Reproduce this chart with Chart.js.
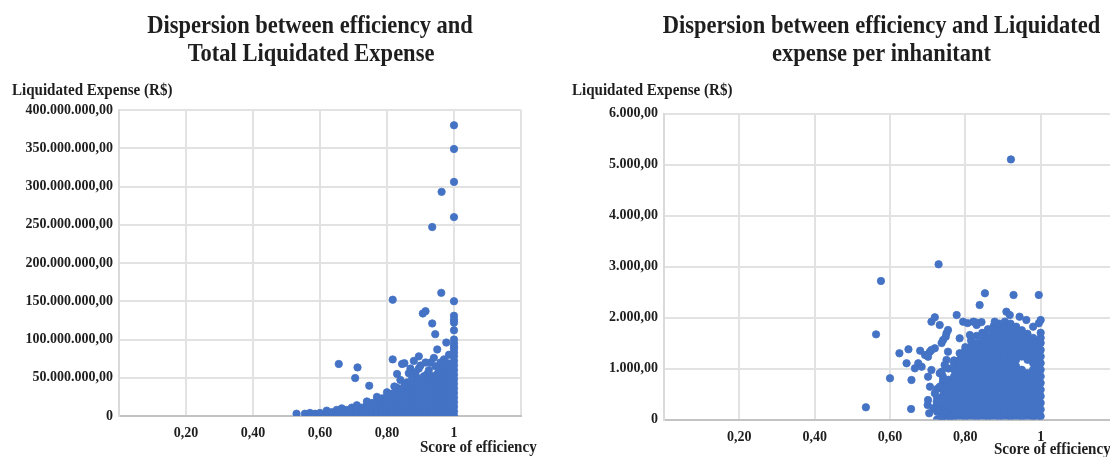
<!DOCTYPE html>
<html>
<head>
<meta charset="utf-8">
<script src="https://cdn.jsdelivr.net/npm/chart.js@4.4.0/dist/chart.umd.min.js"></script>
<style>
  html, body { margin: 0; padding: 0; background: #ffffff; overflow: hidden; }
  #wrap { position: relative; width: 1110px; height: 457px; overflow: hidden; background: #fff; }
  #c1 { position: absolute; left: 0; top: 0; }
  #c2 { position: absolute; left: 555px; top: 0; }
</style>
</head>
<body>
<div id="wrap">
  <canvas id="c1" width="555" height="457" style="width:555px;height:457px"></canvas>
  <canvas id="c2" width="570" height="457" style="width:570px;height:457px"></canvas>
</div>
<script>
// ---------------- DATA ----------------
const xTickLabels = ['', '0,20', '0,40', '0,60', '0,80', '1', ''];
const totalYTickLabels = ['0', '50.000.000,00', '100.000.000,00', '150.000.000,00', '200.000.000,00',
  '250.000.000,00', '300.000.000,00', '350.000.000,00', '400.000.000,00'];
const perCapYTickLabels = ['0', '1.000,00', '2.000,00', '3.000,00', '4.000,00', '5.000,00', '6.000,00'];

// Chart 1: Total liquidated expense (millions of R$) - isolated points
const totalOutlierScore = [1.0, 1.0, 1.0, 0.963, 1.0, 0.935, 0.962, 0.817, 1.0, 0.915, 0.907, 1.0, 1.0, 1.0, 0.935,
  1.0, 0.944, 1.0, 0.977, 0.95, 1.0, 1.0, 0.895, 0.94, 0.817, 0.852, 0.845, 0.981, 0.656, 0.712, 0.705, 0.747,
  0.822, 0.852, 0.87, 0.885, 0.9, 0.91, 0.925, 0.955, 0.965, 0.97, 0.99, 0.93, 0.88,
  0.83, 0.84, 0.865, 0.875, 0.895, 0.915, 0.945, 0.96, 0.985];
const totalOutlierExpense = [380, 349, 306, 293, 260, 247, 161, 152, 150, 137, 134, 131, 126, 122, 121,
  112, 107, 100, 96, 87, 88, 83, 78, 76, 74, 69, 68, 69, 68, 63.5, 49.6, 39.6,
  38.6, 39.6, 62, 57, 66, 52, 60, 58, 64, 74, 66, 70, 72,
  55, 47, 56, 50, 62, 70, 65, 70, 80];
// Chart 1: dense cloud, read column by column (score -> expenses in millions)
const totalCloudScore = [0.53, 0.555, 0.57, 0.585, 0.60, 0.62, 0.635, 0.65, 0.665, 0.68, 0.695, 0.71, 0.725,
  0.74, 0.755, 0.77, 0.785, 0.80, 0.815, 0.83, 0.845, 0.86, 0.875, 0.89, 0.905, 0.92, 0.935, 0.95, 0.965,
  0.98, 0.99, 1.0];
const totalCloudExpense = [
  [3], [3], [4], [3], [4], [3, 7], [5], [3, 8], [5, 10], [2, 8], [4, 11], [2, 8, 14], [5, 11],
  [1, 7, 14, 19], [4, 10, 17], [1, 7, 13, 20, 25], [3, 10, 16, 23], [0, 6, 13, 19, 26, 31],
  [3, 9, 16, 22, 29], [0, 6, 12, 19, 25, 32, 37], [3, 9, 15, 22, 28, 35],
  [0, 6, 12, 18, 25, 31, 38, 44], [3, 9, 15, 21, 28, 34, 41],
  [0, 6, 12, 18, 24, 31, 37, 44, 50], [3, 9, 15, 21, 27, 34, 40, 47],
  [0, 6, 12, 18, 24, 30, 37, 43, 50, 55], [3, 9, 15, 21, 27, 33, 40, 46, 52],
  [0, 6, 12, 18, 24, 30, 36, 43, 49, 55], [3, 9, 15, 21, 27, 33, 39, 46, 52, 58],
  [0, 6, 12, 18, 24, 30, 36, 42, 49, 56, 61], [3, 9, 15, 21, 27, 33, 39, 45, 52, 59],
  [0, 6, 12, 18, 24, 30, 36, 42, 48, 54, 60, 66, 72, 78, 91, 95]
];

// Chart 2: Liquidated expense per inhabitant (R$) - isolated points
const perCapOutlierScore = [0.921, 0.729, 0.576, 0.563, 0.6, 0.536, 0.656, 0.625, 0.649, 0.644, 0.71, 0.719,
  0.732, 0.68, 0.693, 0.706, 0.719, 0.666, 0.675, 0.684, 0.657, 0.706, 0.70, 0.724, 0.715, 0.704, 0.75, 0.741,
  0.754, 0.75, 0.732, 0.741, 0.75, 0.732, 0.754, 0.852, 0.928, 0.995, 0.838, 0.995, 0.909, 0.918, 0.777, 0.794,
  0.821, 0.83, 0.878, 0.944, 0.962, 0.98, 1.0, 0.754, 0.748, 0.785, 0.812, 0.856, 0.759, 0.833, 0.843, 1.0, 1.0,
  0.737, 0.71, 0.701, 0.745, 0.71, 0.701, 0.737, 0.719, 0.701, 0.728, 0.737, 0.806, 0.825];
const perCapOutlierExpense = [5100, 3043, 2716, 1670, 808, 239, 206, 1298, 1376, 1102, 1918, 2004,
  1853, 1349, 1265, 1329, 1396, 1004, 1102, 1035, 775, 643, 284, 349, 220, 122, 1690, 1559,
  1329, 1167, 906, 775, 514, 643, 220, 2475, 2441, 2441, 2245, 1886, 2114, 2049, 2049, 1918,
  1918, 1853, 1918, 2016, 1951, 1820, 1950, 1755, 1624, 1592, 1657, 1624, 55, 1890, 1910, 1600, 1700,
  1500, 1363, 1231, 1069, 970, 839, 937, 514, 382, 186, 55, 1890, 1910];
// Chart 2: dense cloud, column by column
const perCapCloudScore = [0.725, 0.74, 0.755, 0.77, 0.785, 0.80, 0.815, 0.83, 0.845, 0.86, 0.875, 0.89, 0.905,
  0.92, 0.935, 0.95, 0.965, 0.98, 0.99, 1.0];
const perCapCloudExpense = [
  [0, 150, 280, 430, 600],
  [60, 200, 330, 460, 590, 720, 850],
  [0, 130, 260, 390, 520, 650, 780, 1000],
  [65, 195, 325, 455, 585, 715, 845, 975, 1105, 1160],
  [0, 130, 260, 390, 520, 650, 780, 910, 1040, 1170, 1300],
  [65, 195, 325, 455, 585, 715, 845, 975, 1105, 1235, 1365, 1420],
  [0, 130, 260, 390, 520, 650, 780, 910, 1040, 1170, 1300, 1430, 1550],
  [65, 195, 325, 455, 585, 715, 845, 975, 1105, 1235, 1365, 1495, 1640],
  [0, 130, 260, 390, 520, 650, 780, 910, 1040, 1170, 1300, 1430, 1560, 1700],
  [65, 195, 325, 455, 585, 715, 845, 975, 1105, 1235, 1365, 1495, 1625, 1770],
  [0, 130, 260, 390, 520, 650, 780, 910, 1040, 1170, 1300, 1430, 1560, 1690, 1830],
  [65, 195, 325, 455, 585, 715, 845, 975, 1105, 1235, 1365, 1495, 1625, 1755, 1880],
  [0, 130, 260, 390, 520, 650, 780, 910, 1040, 1170, 1300, 1430, 1560, 1690, 1820, 1920],
  [65, 195, 325, 455, 585, 715, 845, 975, 1105, 1235, 1365, 1495, 1625, 1755, 1880],
  [0, 130, 260, 390, 520, 650, 780, 910, 1040, 1170, 1300, 1430, 1560, 1690, 1820],
  [65, 195, 325, 455, 585, 715, 845, 975, 1235, 1365, 1495, 1625, 1750],
  [0, 130, 260, 390, 520, 650, 780, 910, 1170, 1300, 1430, 1560, 1680],
  [65, 195, 325, 455, 585, 715, 845, 975, 1105, 1235, 1365, 1495, 1600],
  [0, 130, 260, 390, 520, 650, 780, 910, 1040, 1170, 1300, 1430, 1540],
  [65, 195, 325, 455, 585, 715, 845, 975, 1105, 1235, 1365, 1500]
];

// ---------------- HELPERS ----------------
function buildPoints(cloudX, cloudY, outX, outY) {
  const pts = [];
  cloudX.forEach((x, i) => cloudY[i].forEach(y => pts.push({ x: x, y: y })));
  outX.forEach((x, i) => pts.push({ x: x, y: outY[i] }));
  return pts;
}

const SERIF = '"Liberation Serif", "Times New Roman", serif';
const TEXT = '#1e1e1e';
const BLUE = '#4472C4';

function textPlugin(items) {
  return {
    id: 'extraText',
    afterDraw(chart) {
      const ctx = chart.ctx;
      items.forEach(it => {
        ctx.save();
        ctx.font = 'bold ' + it.size + 'px ' + SERIF;
        ctx.fillStyle = TEXT;
        ctx.textBaseline = 'middle';
        ctx.textAlign = it.align;
        ctx.translate(it.x, it.y);
        ctx.scale(it.sx, 1);
        ctx.fillText(it.text, 0, 0);
        ctx.restore();
      });
    }
  };
}

function makeChart(canvasId, points, yMax, yStep, yLabels, pad, yWidth, xHeight, texts) {
  const tickFont = { family: SERIF, size: 14, weight: 'bold' };
  return new Chart(document.getElementById(canvasId), {
    type: 'scatter',
    data: {
      datasets: [{
        data: points,
        backgroundColor: BLUE,
        borderColor: BLUE,
        borderWidth: 0.8,
        pointRadius: 3.7,
        pointHoverRadius: 3.7
      }]
    },
    options: {
      responsive: false,
      animation: false,
      events: [],
      layout: { padding: pad },
      plugins: {
        legend: { display: false },
        tooltip: { enabled: false },
        title: { display: false }
      },
      scales: {
        x: {
          type: 'linear',
          min: 0, max: 1.2,
          ticks: {
            stepSize: 0.2, autoSkip: false, maxRotation: 0, padding: 9,
            color: TEXT, font: tickFont,
            callback: (v, i) => xTickLabels[i]
          },
          grid: { color: '#e2e2e2', lineWidth: 2, drawTicks: false },
          border: { color: '#c3c3c3', width: 2 },
          afterFit: s => { s.height = xHeight; }
        },
        y: {
          min: 0, max: yMax,
          ticks: {
            stepSize: yStep, padding: 6,
            color: TEXT, font: tickFont,
            callback: (v, i) => yLabels[i]
          },
          grid: { color: '#e2e2e2', lineWidth: 2, drawTicks: false },
          border: { color: '#dadada', width: 2 },
          afterFit: s => { s.width = yWidth; }
        }
      }
    },
    plugins: [textPlugin(texts)]
  });
}

// ---------------- CHARTS ----------------
makeChart('c1',
  buildPoints(totalCloudScore, totalCloudExpense, totalOutlierScore, totalOutlierExpense),
  400, 50, totalYTickLabels,
  { left: 0, top: 110, right: 34, bottom: 0 }, 119, 41,
  [
    { text: 'Dispersion between efficiency and', x: 310, y: 27, size: 25, sx: 0.9, align: 'center' },
    { text: 'Total Liquidated Expense', x: 311, y: 55, size: 25, sx: 0.9, align: 'center' },
    { text: 'Liquidated Expense (R$)', x: 12, y: 91, size: 16, sx: 0.94, align: 'left' },
    { text: 'Score of efficiency', x: 420, y: 448, size: 16, sx: 0.94, align: 'left' }
  ]);

makeChart('c2',
  buildPoints(perCapCloudScore, perCapCloudExpense, perCapOutlierScore, perCapOutlierExpense),
  6000, 1000, perCapYTickLabels,
  { left: 0, top: 113.5, right: 8.5, bottom: 0 }, 109, 37.5,
  [
    { text: 'Dispersion between efficiency and Liquidated', x: 326.5, y: 27, size: 25, sx: 0.9, align: 'center' },
    { text: 'expense per inhanitant', x: 326.5, y: 55, size: 25, sx: 0.9, align: 'center' },
    { text: 'Liquidated Expense (R$)', x: 17, y: 91, size: 16, sx: 0.94, align: 'left' },
    { text: 'Score of efficiency', x: 439, y: 450, size: 16, sx: 0.94, align: 'left' }
  ]);
</script>
</body>
</html>
